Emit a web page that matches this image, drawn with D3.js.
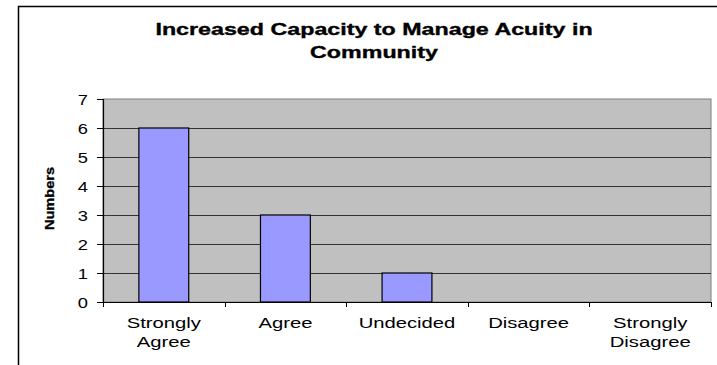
<!DOCTYPE html>
<html>
<head>
<meta charset="utf-8">
<script src="https://cdn.jsdelivr.net/npm/d3@7/dist/d3.min.js"></script>
<style>
  html, body { margin: 0; padding: 0; background: #fff; }
  svg { display: block; }
  text { font-family: "Liberation Sans", Arial, sans-serif; fill: #000; }
</style>
</head>
<body>
<svg id="chart" width="717" height="365"></svg>
<script>
// Survey responses
const categories = ["Strongly Agree", "Agree", "Undecided", "Disagree", "Strongly Disagree"];
const categoryLines = [["Strongly", "Agree"], ["Agree"], ["Undecided"], ["Disagree"], ["Strongly", "Disagree"]];
const counts = [6, 3, 1, 0, 0];
const yTicks = [0, 1, 2, 3, 4, 5, 6, 7];
const titleLines = ["Increased Capacity to Manage Acuity in", "Community"];
const yAxisTitle = "Numbers";

const svg = d3.select("#chart");

// Outer chart frame (runs off the right and bottom edges)
svg.append("rect")
  .attr("x", 18.5).attr("y", 6.5)
  .attr("width", 760).attr("height", 420)
  .attr("fill", "#fff")
  .attr("stroke", "#000")
  .attr("stroke-width", 1.5);

const plot = { left: 103, right: 711, top: 99, bottom: 302 };

const x = d3.scaleBand()
  .domain(categories)
  .range([plot.left, plot.right])
  .paddingInner(0)
  .paddingOuter(0);

const y = d3.scaleLinear()
  .domain([0, 7])
  .range([plot.bottom, plot.top]);

// Text is drawn wide; stretch glyphs horizontally around their anchor
function stretched(sel, k) {
  sel.each(function () {
    const t = d3.select(this);
    const tx = +t.attr("data-x"), ty = +t.attr("data-y");
    t.attr("transform", `translate(${tx},${ty}) scale(${k},1)`);
  });
}

// Plot background
svg.append("rect")
  .attr("x", plot.left).attr("y", plot.top)
  .attr("width", plot.right - plot.left).attr("height", plot.bottom - plot.top)
  .attr("fill", "#c0c0c0")
  .attr("stroke", "#808080")
  .attr("stroke-width", 1);

// Horizontal gridlines
svg.append("g")
  .selectAll("line")
  .data(yTicks.filter(d => d > 0 && d < 7))
  .join("line")
  .attr("x1", plot.left).attr("x2", plot.right)
  .attr("y1", d => Math.round(y(d)) + 0.5).attr("y2", d => Math.round(y(d)) + 0.5)
  .attr("stroke", "#333")
  .attr("stroke-width", 1);

// Bars
const barW = x.bandwidth() * 0.41;
svg.append("g")
  .selectAll("rect")
  .data(categories.map((c, i) => ({ c, v: counts[i] })).filter(d => d.v > 0))
  .join("rect")
  .attr("x", d => x(d.c) + (x.bandwidth() - barW) / 2)
  .attr("y", d => y(d.v))
  .attr("width", barW)
  .attr("height", d => y(0) - y(d.v))
  .attr("fill", "#9999ff")
  .attr("stroke", "#000")
  .attr("stroke-width", 1.2);

// Y axis line and ticks
const yAxis = svg.append("g")
  .attr("transform", `translate(${plot.left},0)`)
  .call(d3.axisLeft(y).tickValues(yTicks).tickSize(6).tickFormat(""));
yAxis.select(".domain").attr("stroke", "#000").attr("stroke-width", 1.2);
yAxis.selectAll(".tick line").attr("stroke", "#000");
yAxis.selectAll(".tick text").remove();

// Y tick labels
const yl = svg.append("g");
yl.selectAll("text")
  .data(yTicks)
  .join("text")
  .attr("data-x", 88)
  .attr("data-y", d => y(d) + 5.5)
  .attr("text-anchor", "end")
  .attr("font-size", 15)
  .text(d => d);
stretched(yl.selectAll("text"), 1.22);

// X axis line
const xAxis = svg.append("g")
  .attr("transform", `translate(0,${plot.bottom})`)
  .call(d3.axisBottom(x).tickSize(0).tickFormat(""));
xAxis.select(".domain").attr("stroke", "#000").attr("stroke-width", 1.2);
xAxis.selectAll(".tick").remove();

// Category boundary ticks
const bounds = categories.map(c => x(c)).concat([plot.right]);
svg.append("g")
  .selectAll("line")
  .data(bounds)
  .join("line")
  .attr("x1", d => Math.round(d) + 0.5).attr("x2", d => Math.round(d) + 0.5)
  .attr("y1", plot.bottom).attr("y2", plot.bottom + 5)
  .attr("stroke", "#000");

// Category labels
const xl = svg.append("g");
categoryLines.forEach((lines, i) => {
  const cx = x(categories[i]) + x.bandwidth() / 2;
  lines.forEach((ln, j) => {
    xl.append("text")
      .attr("data-x", cx)
      .attr("data-y", 328 + j * 19)
      .attr("text-anchor", "middle")
      .attr("font-size", 15)
      .text(ln);
  });
});
stretched(xl.selectAll("text"), 1.35);

// Title
const tg = svg.append("g");
titleLines.forEach((ln, j) => {
  tg.append("text")
    .attr("data-x", 374)
    .attr("data-y", 35 + j * 23)
    .attr("text-anchor", "middle")
    .attr("font-size", 16.5)
    .attr("font-weight", "bold")
    .attr("stroke", "#000")
    .attr("stroke-width", 0.35)
    .text(ln);
});
stretched(tg.selectAll("text"), 1.41);

// Y axis title
svg.append("text")
  .attr("transform", `translate(54,${(plot.top + plot.bottom) / 2 - 2}) rotate(-90) scale(1.12,1)`)
  .attr("text-anchor", "middle")
  .attr("font-size", 13)
  .attr("font-weight", "bold")
  .attr("stroke", "#000")
  .attr("stroke-width", 0.3)
  .text(yAxisTitle);
</script>
</body>
</html>
